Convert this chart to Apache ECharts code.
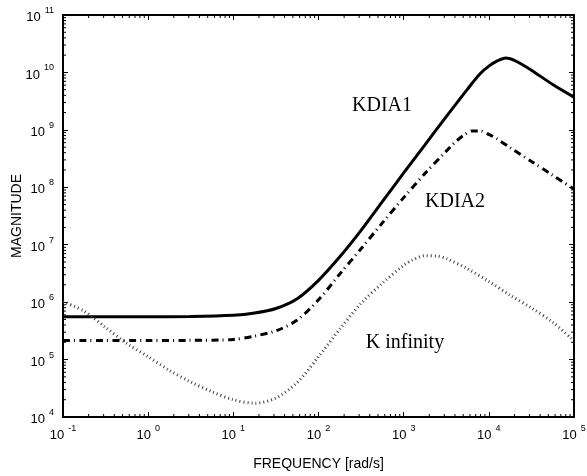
<!DOCTYPE html>
<html>
<head>
<meta charset="utf-8">
<script src="https://cdn.jsdelivr.net/npm/echarts@6/dist/echarts.min.js"></script>
<style>
html,body{margin:0;padding:0;background:#fff;}
#chart{width:587px;height:476px;}
</style>
</head>
<body>
<div id="chart"></div>
<script>
// Tick label exponents (labels read "10^e")
const xTickExps = [-1, 0, 1, 2, 3, 4, 5];
const yTickExps = [4, 5, 6, 7, 8, 9, 10, 11];

// KDIA1: log10(frequency) and log10(magnitude)
const kdia1LogFreq = [-1, 0, 0.5, 1.0, 1.25, 1.5, 1.75, 2.0, 2.25, 2.5, 2.75, 3.0, 3.25, 3.5, 3.75, 3.9, 4.0, 4.1, 4.2, 4.3, 4.4, 4.5, 4.75, 5.0];
const kdia1LogMag  = [5.747, 5.747, 5.750, 5.77, 5.81, 5.89, 6.06, 6.38, 6.79, 7.25, 7.75, 8.25, 8.74, 9.23, 9.71, 9.98, 10.11, 10.20, 10.25, 10.21, 10.13, 10.04, 9.79, 9.57];

// KDIA2
const kdia2LogFreq = [-1, 0, 0.5, 1.0, 1.25, 1.5, 1.75, 2.0, 2.25, 2.5, 2.75, 3.0, 3.25, 3.5, 3.6, 3.7, 3.8, 3.9, 4.0, 4.1, 4.25, 4.5, 4.75, 5.0];
const kdia2LogMag  = [5.33, 5.33, 5.335, 5.35, 5.41, 5.50, 5.69, 6.04, 6.49, 6.93, 7.38, 7.82, 8.24, 8.63, 8.78, 8.90, 8.98, 8.98, 8.92, 8.84, 8.69, 8.45, 8.21, 7.97];

// K infinity
const kinfLogFreq = [-1, -0.75, -0.5, -0.25, 0, 0.25, 0.5, 0.75, 1.0, 1.25, 1.5, 1.75, 2.0, 2.25, 2.5, 2.75, 3.0, 3.1, 3.25, 3.4, 3.5, 3.75, 4.0, 4.25, 4.5, 4.75, 5.0];
const kinfLogMag  = [6.01, 5.84, 5.56, 5.28, 5.05, 4.81, 4.61, 4.44, 4.30, 4.24, 4.33, 4.60, 5.05, 5.53, 5.98, 6.33, 6.64, 6.73, 6.81, 6.80, 6.76, 6.58, 6.36, 6.12, 5.90, 5.65, 5.33];

// Curve annotations
const annotations = [
  { text: 'KDIA1', x: 382, y: 106 },
  { text: 'KDIA2', x: 455, y: 202 },
  { text: 'K infinity', x: 405, y: 343 }
];

const toPairs = (lf, lm) => lf.map((f, i) => [Math.pow(10, f), Math.pow(10, lm[i])]);

const xMin = Math.pow(10, xTickExps[0]), xMax = Math.pow(10, xTickExps[xTickExps.length - 1]);
const yMin = Math.pow(10, yTickExps[0]), yMax = Math.pow(10, yTickExps[yTickExps.length - 1]);

// minor ticks (2..9 x 10^k) on the four sides of the box
const minorBottom = [], minorTop = [], minorLeft = [], minorRight = [];
for (let e = xTickExps[0]; e < xTickExps[xTickExps.length - 1]; e++) {
  for (let m = 2; m <= 9; m++) {
    const v = m * Math.pow(10, e);
    minorBottom.push([v, yMin]);
    minorTop.push([v, yMax]);
  }
}
for (let e = yTickExps[0]; e < yTickExps[yTickExps.length - 1]; e++) {
  for (let m = 2; m <= 9; m++) {
    const v = m * Math.pow(10, e);
    minorLeft.push([xMin, v]);
    minorRight.push([xMax, v]);
  }
}

function minorSeries(data, dx, dy) {
  return {
    type: 'custom', clip: false, silent: true, z: 5,
    dimensions: ['x', 'y'],
    encode: { x: 0, y: 1 },
    data: data,
    renderItem: function (params, api) {
      const p = api.coord([api.value(0), api.value(1)]);
      return {
        type: 'line',
        shape: { x1: p[0], y1: p[1], x2: p[0] + dx, y2: p[1] + dy },
        style: { stroke: '#000', lineWidth: 1 }
      };
    }
  };
}

const expLabel = v => {
  const e = Math.round(Math.log10(v));
  return '{b|10}{s|' + e + '}';
};
const labelRich = {
  b: { fontSize: 13, fontFamily: 'Liberation Sans', color: '#000', lineHeight: 18, verticalAlign: 'bottom' },
  s: { fontSize: 9, fontFamily: 'Liberation Sans', color: '#000', lineHeight: 18, verticalAlign: 'top', padding: [0, 0, 0, 4] }
};

const axisCommon = {
  type: 'log', logBase: 10, splitNumber: 10,
  splitLine: { show: false },
  axisLine: { show: true, onZero: false, lineStyle: { color: '#000', width: 2 } },
  axisTick: { show: true, inside: true, length: 5, lineStyle: { color: '#000', width: 1 } }
};

const lineSmooth = { showSymbol: false, smooth: 0.3 };

const chart = echarts.init(document.getElementById('chart'), null, { renderer: 'canvas' });
chart.setOption({
  animation: false,
  backgroundColor: '#fff',
  grid: { left: 63, right: 13, top: 15, bottom: 59, containLabel: false, outerBoundsMode: 'none' },
  xAxis: [
    Object.assign({}, axisCommon, {
      position: 'bottom', min: xMin, max: xMax,
      name: 'FREQUENCY [rad/s]', nameLocation: 'middle', nameGap: 40, nameMoveOverlap: false,
      nameTextStyle: { fontSize: 14, fontFamily: 'Liberation Sans', color: '#000' },
      axisLabel: { show: true, margin: 7, formatter: expLabel, rich: labelRich }
    }),
    Object.assign({}, axisCommon, {
      position: 'top', min: xMin, max: xMax, axisLabel: { show: false }
    })
  ],
  yAxis: [
    Object.assign({}, axisCommon, {
      position: 'left', min: yMin, max: yMax,
      name: 'MAGNITUDE', nameLocation: 'middle', nameGap: 39, nameRotate: 90, nameMoveOverlap: false,
      nameTextStyle: { fontSize: 14, fontFamily: 'Liberation Sans', color: '#000' },
      axisLabel: { show: true, margin: 9, formatter: expLabel, rich: labelRich }
    }),
    Object.assign({}, axisCommon, {
      position: 'right', min: yMin, max: yMax, axisLabel: { show: false }
    })
  ],
  graphic: annotations.map(a => ({
    type: 'text', x: a.x, y: a.y,
    style: { text: a.text, font: '20px "Liberation Serif"', fill: '#000', align: 'center', verticalAlign: 'middle' }
  })),
  series: [
    Object.assign({
      name: 'KDIA1', type: 'line', data: toPairs(kdia1LogFreq, kdia1LogMag),
      lineStyle: { color: '#000', width: 3 }
    }, lineSmooth),
    Object.assign({
      name: 'KDIA2', type: 'line', data: toPairs(kdia2LogFreq, kdia2LogMag),
      lineStyle: { color: '#000', width: 3, type: [7, 4, 1, 4.5], cap: 'butt' }
    }, lineSmooth),
    Object.assign({
      name: 'K infinity', type: 'line', data: toPairs(kinfLogFreq, kinfLogMag),
      lineStyle: { color: '#444', width: 3, type: [1, 3], cap: 'butt' }
    }, lineSmooth),
    minorSeries(minorBottom, 0, -3),
    minorSeries(minorTop, 0, 3),
    minorSeries(minorLeft, 3, 0),
    minorSeries(minorRight, -3, 0)
  ]
});
</script>
</body>
</html>
